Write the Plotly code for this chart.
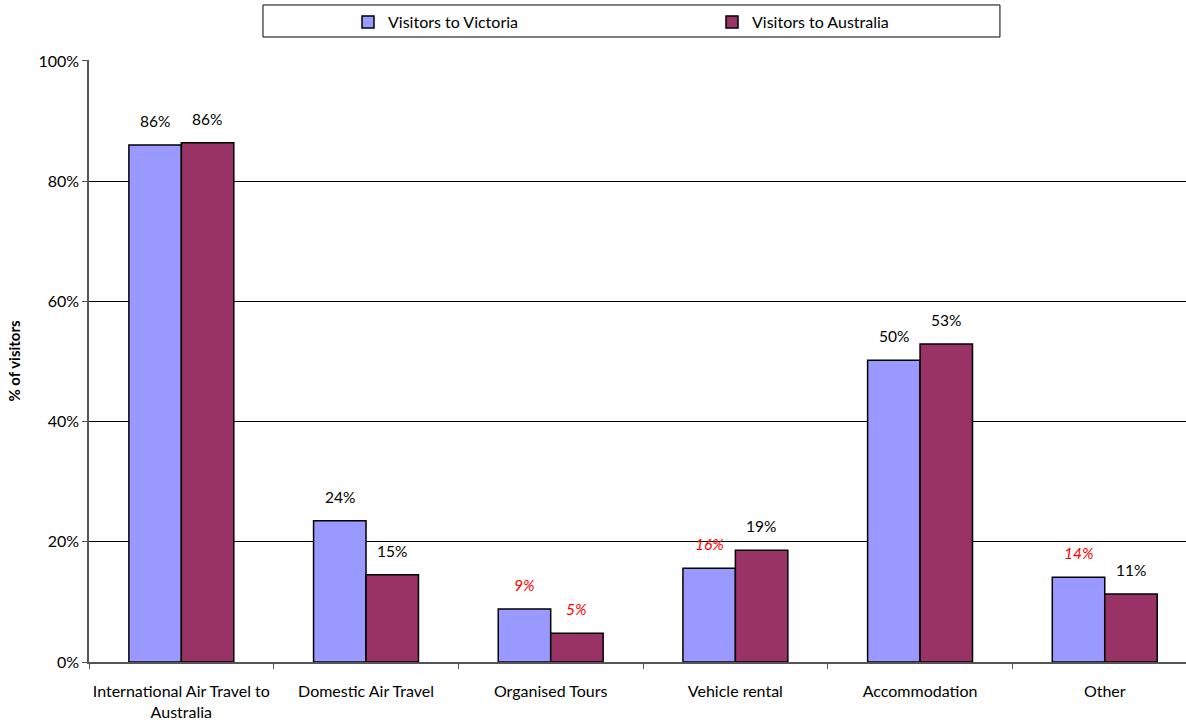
import plotly.graph_objects as go

categories = ["International Air Travel to<br>Australia", "Domestic Air Travel", "Organised Tours",
              "Vehicle rental", "Accommodation", "Other"]
victoria = [86.0, 23.5, 8.8, 15.6, 50.2, 14.1]
australia = [86.4, 14.5, 4.8, 18.6, 52.9, 11.3]
victoria_labels = ["86%", "24%", "9%", "16%", "50%", "14%"]
australia_labels = ["86%", "15%", "5%", "19%", "53%", "11%"]
victoria_flag = [False, False, True, True, False, True]
australia_flag = [False, False, True, False, False, False]
y_ticks = [0, 20, 40, 60, 80, 100]
y_ticklabels = ["0%", "20%", "40%", "60%", "80%", "100%"]

FONT = "Lato"
fig = go.Figure()
fig.add_trace(go.Bar(name="Visitors to Victoria", x=categories, y=victoria,
                     marker=dict(color="#9999FF", line=dict(color="black", width=1.5))))
fig.add_trace(go.Bar(name="Visitors to Australia", x=categories, y=australia,
                     marker=dict(color="#993366", line=dict(color="black", width=1.5))))

annotations = []
for series, labels, flags, shift in [(victoria, victoria_labels, victoria_flag, -26),
                                     (australia, australia_labels, australia_flag, 26)]:
    for c, v, lab, f in zip(categories, series, labels, flags):
        annotations.append(dict(
            x=c, y=v, xref="x", yref="y", text=f"<i>{lab}</i>" if f else lab,
            showarrow=False, xshift=shift, yshift=24, yanchor="middle",
            font=dict(family=FONT, size=15.5, color="#FF0000" if f else "black")))

fig.update_layout(
    width=1186, height=725,
    margin=dict(l=89, r=0, t=60, b=63, autoexpand=False),
    paper_bgcolor="white", plot_bgcolor="white",
    barmode="group", bargap=0.432, bargroupgap=0,
    font=dict(family=FONT, size=16, color="black"),
    showlegend=True,
    legend=dict(orientation="h", x=0.2361, y=1.0914, xanchor="left", yanchor="top",
                bgcolor="rgba(0,0,0,0)", borderwidth=0, entrywidth=319, entrywidthmode="pixels",
                font=dict(family=FONT, size=16, color="black"), traceorder="normal"),
    annotations=annotations,
    shapes=[dict(type="rect", xref="paper", yref="paper", x0=0.1586, x1=0.8304, y0=1.0382, y1=1.0914,
                 line=dict(color="black", width=1), fillcolor="rgba(0,0,0,0)")],
)
fig.update_yaxes(range=[0, 100.15], tickvals=y_ticks, ticktext=y_ticklabels, automargin=False,
                 showgrid=True, gridcolor="black", gridwidth=1,
                 showline=True, linecolor="#555555", linewidth=1.5,
                 ticks="outside", ticklen=5, tickcolor="#555555",
                 tickfont=dict(family=FONT, size=16),
                 title=dict(text="<b>% of visitors</b>", font=dict(family=FONT, size=15), standoff=14),
                 zeroline=False)
fig.update_xaxes(range=[-0.5, 5.44], automargin=False, tickangle=0,
                 showline=True, linecolor="#555555", linewidth=1.5,
                 ticks="outside", ticklen=5, tickcolor="#555555", tickson="boundaries",
                 ticklabelstandoff=14,
                 tickfont=dict(family=FONT, size=16))

fig.write_html("out.html")
